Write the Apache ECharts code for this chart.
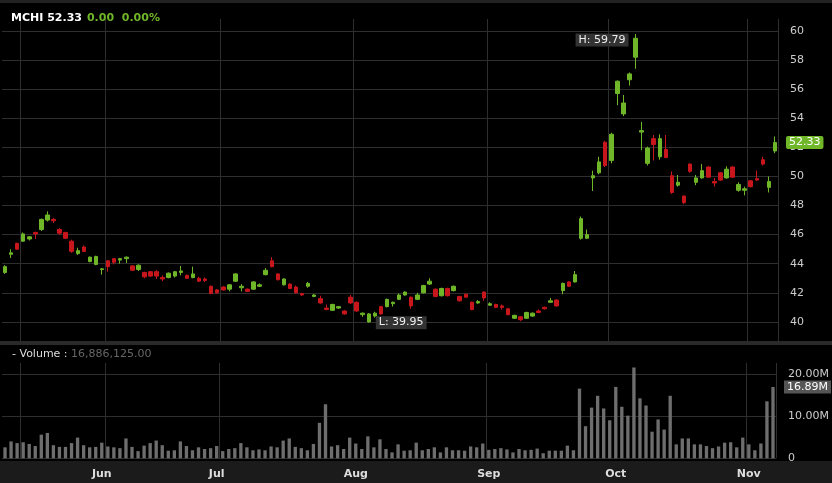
<!DOCTYPE html>
<html><head><meta charset="utf-8">
<script src="https://cdn.jsdelivr.net/npm/echarts@6/dist/echarts.min.js"></script>
<style>html,body{margin:0;padding:0;background:#000;}#c{width:832px;height:483px;}</style>
</head><body><div id="c"></div>
<script>
const opens=[43.4,44.65,45.4,45.55,45.7,46.15,46.35,47.0,47.05,46.35,46.15,45.55,44.7,45.15,44.15,43.95,43.6,44.2,44.35,44.25,44.35,43.85,43.6,43.4,43.45,43.45,43.05,43.05,43.15,43.4,43.2,43.05,43.0,42.95,42.45,42.2,42.4,42.25,42.8,42.35,42.25,42.25,42.45,43.25,44.2,43.3,42.55,42.6,42.4,41.95,42.45,41.75,41.6,40.95,40.8,40.95,40.75,41.7,41.35,40.5,40.0,40.4,41.05,41.05,41.25,41.55,41.85,41.7,41.55,42.0,42.6,42.25,41.8,42.3,42.15,41.75,41.9,41.35,41.3,42.05,41.15,41.2,41.1,40.9,40.25,40.35,40.25,40.4,40.75,41.0,41.35,41.5,42.15,42.75,42.75,45.75,45.75,49.9,50.25,52.35,51.1,55.7,54.3,56.65,58.2,53.05,50.9,52.6,51.35,51.85,50.05,49.4,48.65,50.85,49.6,49.9,50.65,49.65,50.25,49.9,50.65,49.05,49.05,49.7,49.85,51.15,49.25,51.75];
const closes=[43.8,44.75,45.0,46.05,45.85,46.05,47.05,47.35,46.95,46.1,45.75,44.85,44.9,44.85,44.45,44.5,43.65,43.8,44.1,44.35,44.45,43.55,43.9,43.1,43.15,43.15,42.95,43.35,43.45,43.5,43.0,43.3,42.8,42.85,41.95,42.0,42.2,42.55,43.3,42.45,42.1,42.75,42.55,43.55,43.8,42.9,42.95,42.3,42.0,41.85,42.65,41.85,41.3,40.85,41.2,41.05,40.55,41.3,40.75,40.6,40.55,40.6,40.55,41.55,41.35,41.85,42.05,41.1,41.85,42.5,42.8,41.75,42.3,41.8,42.45,41.45,41.7,40.85,41.4,41.65,41.25,41.0,41.0,40.5,40.45,40.15,40.65,40.6,40.65,40.9,41.45,41.1,42.65,42.45,43.25,47.1,46.0,50.05,51.0,50.75,52.9,56.55,55.05,57.05,59.5,53.15,51.95,52.2,52.6,51.3,48.9,49.6,48.2,50.35,49.9,50.4,49.95,49.55,49.75,50.5,49.95,49.45,49.15,49.3,49.75,50.85,49.65,52.33];
const lows=[43.3,44.4,44.95,45.5,45.6,45.7,46.25,46.9,46.8,46.0,45.7,44.75,44.6,44.8,44.1,43.9,43.25,43.45,43.95,44.0,44.05,43.5,43.5,43.0,43.1,42.95,42.8,43.0,43.05,43.2,42.95,43.0,42.75,42.75,41.9,41.95,42.15,42.1,42.75,42.1,42.05,42.2,42.4,43.2,43.75,42.85,42.5,42.25,41.95,41.8,42.35,41.7,41.25,40.8,40.75,40.9,40.5,41.25,40.7,40.35,39.95,40.3,40.5,41.0,41.05,41.5,41.8,40.9,41.5,41.95,42.55,41.7,41.75,41.75,42.1,41.4,41.65,40.8,41.25,41.45,41.1,40.95,40.85,40.45,40.2,40.05,40.2,40.35,40.6,40.85,41.35,41.05,41.9,42.4,42.7,45.65,45.7,49.0,50.15,50.65,50.9,54.9,54.15,56.25,57.4,51.8,50.75,51.1,51.15,51.25,48.8,49.3,48.1,50.25,49.4,49.85,49.9,49.3,49.7,49.85,49.9,48.95,48.7,49.25,49.7,50.75,48.9,51.6];
const highs=[43.9,45.0,45.45,46.15,45.9,46.2,47.1,47.6,47.15,46.45,46.2,45.65,45.1,45.25,44.5,44.55,43.7,44.25,44.4,44.4,44.5,43.9,43.95,43.45,43.5,43.55,43.2,43.4,43.5,43.85,43.25,43.8,43.1,43.05,42.5,42.25,42.45,42.6,43.35,42.6,42.3,42.8,42.65,43.7,44.45,43.35,43.0,42.65,42.5,42.0,42.75,41.9,41.8,41.2,41.25,41.1,40.8,41.85,41.4,40.65,40.6,40.7,41.1,41.6,41.4,41.95,42.1,41.75,42.0,42.55,43.0,42.3,42.35,42.35,42.5,41.8,41.95,41.4,41.5,42.1,41.35,41.25,41.2,40.95,40.5,40.4,40.7,40.65,40.85,41.05,41.65,41.55,42.7,42.8,43.5,47.25,46.35,50.4,51.35,52.45,53.0,56.6,55.6,57.15,59.79,53.75,52.05,52.85,52.9,52.85,50.35,50.1,48.7,50.9,50.1,50.85,50.7,49.9,50.3,50.7,50.7,49.6,49.3,49.75,50.4,51.35,50.0,52.75];
const volumes=[2.6,4,3.6,3.8,3.4,2.9,5.6,6,3.1,2.7,2.7,3.6,4.9,3.1,2.6,2.7,3.7,2.8,2.6,2.4,4.7,2.7,1.7,3,3.6,4.2,3.1,1.8,1.9,4,2.9,1.9,2.6,2.2,2.4,2.9,1.7,2.2,2.4,3.6,2.6,1.9,2.1,1.9,2.8,2.6,4.2,4.7,2.7,2.4,1.9,3.4,8.4,12.8,2.8,3.1,2.2,4.9,3.5,2.2,5.2,2.6,4.5,2.2,1.4,3.3,1.8,1.9,3.7,1.9,2.2,2.6,1.4,2.6,1.9,1.9,1.8,2.8,2.6,3.5,2.0,2.2,2.4,2.1,1.4,2.2,1.9,2.0,2.3,1.2,1.8,1.8,1.8,3.0,1.9,16.5,7.6,12,14.8,11.8,9,16.9,12.2,10.1,21.5,14.2,12.5,6.3,9.2,6.8,14.8,3.3,4.7,4.7,3.3,3.3,2.9,2.4,2.8,3.7,3.8,2.6,4.9,3.3,1.9,3.5,13.5,16.89];
const monthLabels={16:'Jun',35:'Jul',58:'Aug',80:'Sep',101:'Oct',123:'Nov'};
const priceLines=[3,17,36,58,80,100,123];
const volLines=[3,17,36,80,123];

const cats=closes.map((_,i)=>String(i));
const ohlc=closes.map((c,i)=>[opens[i],c,lows[i],highs[i]]);
const last=closes.length-1;
const GREEN='#6fb628', RED='#c8161d', GRID='#2e2e2e', FONT='DejaVu Sans';
const chart=echarts.init(document.getElementById('c'));
const L=2, R=54;
chart.setOption({
  backgroundColor:'#000',animation:false,
  title:{z:200,text:'{w|MCHI 52.33} {g|0.00  0.00%}',left:6,top:4,textStyle:{rich:{
    w:{color:'#fff',fontWeight:'bold',fontSize:11,fontFamily:FONT},
    g:{color:GREEN,fontWeight:'bold',fontSize:11,fontFamily:FONT}}}},
  graphic:[
    {type:'rect',left:0,top:461,z:-10,shape:{width:832,height:22},style:{fill:'#1b1b1b'}},
    {type:'rect',left:0,top:0,z:100,shape:{width:832,height:3},style:{fill:'#222'}},
    {type:'rect',left:0,top:16,z:100,shape:{width:780,height:3},style:{fill:'#000'}},
    {type:'rect',left:0,top:345,z:100,shape:{width:832,height:18},style:{fill:'#000'}},
    {type:'rect',left:0,top:341,z:100,shape:{width:832,height:4},style:{fill:'#2a2a2a'}},
    {type:'text',left:12,top:348,z:101,style:{text:'{w|- Volume :} {g|16,886,125.00}',rich:{
      w:{fill:'#ddd',fontSize:11,fontFamily:FONT},g:{fill:'#666',fontSize:11,fontFamily:FONT}}}}
  ],
  grid:[{left:L,right:R,top:17.9,height:333.1},{left:L,right:R,top:362,height:96.3}],
  xAxis:[
    {type:'category',data:cats,gridIndex:0,axisLine:{show:false},axisTick:{show:false,interval:0},axisLabel:{show:false,interval:0},
     splitLine:{show:true,interval:(i)=>priceLines.includes(i),lineStyle:{color:GRID}}},
    {type:'category',data:cats,gridIndex:1,axisLine:{show:false},axisTick:{show:false,interval:0},
     axisLabel:{interval:(i)=>monthLabels[i]!==undefined,formatter:(v)=>monthLabels[+v]||'',color:'#ddd',fontWeight:'bold',fontSize:11,fontFamily:FONT,margin:10},
     splitLine:{show:true,interval:(i)=>volLines.includes(i),lineStyle:{color:GRID}}}
  ],
  yAxis:[
    {type:'value',gridIndex:0,position:'right',min:38,max:60.9,interval:2,axisLine:{show:false},axisTick:{show:false},
     axisLabel:{color:'#ccc',fontSize:11,fontFamily:FONT,margin:12,showMaxLabel:false,showMinLabel:false},
     splitLine:{lineStyle:{color:GRID}}},
    {type:'value',gridIndex:1,position:'right',min:0,max:22.8,interval:10,axisLine:{show:false},axisTick:{show:false},
     axisLabel:{color:'#ccc',fontSize:11,fontFamily:FONT,margin:12,showMaxLabel:false,formatter:(v)=>v===0?'0':v.toFixed(2)+'M'},
     splitLine:{lineStyle:{color:GRID}}}
  ],
  series:[
    {type:'candlestick',data:ohlc,xAxisIndex:0,yAxisIndex:0,barWidth:'65%',
     itemStyle:{color:GREEN,color0:RED,borderColor:GREEN,borderColor0:RED,borderWidth:1},
     markPoint:{symbol:'circle',symbolSize:0,data:[
       {coord:[104,59.79],label:{show:true,formatter:'H: 59.79',position:'left',offset:[-2,6],color:'#eee',backgroundColor:'#333',padding:[1,3],fontSize:11,fontFamily:FONT}},
       {coord:[60,39.95],label:{show:true,formatter:'L: 39.95',position:'right',offset:[2,0],color:'#eee',backgroundColor:'#333',padding:[1,3],fontSize:11,fontFamily:FONT}},
       {coord:[last,52.33],label:{show:true,formatter:'52.33',position:'right',offset:[6,0],color:'#fff',backgroundColor:GREEN,padding:[1,3],borderRadius:2,fontSize:11,fontFamily:FONT}}
     ]}},
    {type:'bar',data:volumes,xAxisIndex:1,yAxisIndex:1,barWidth:'55%',itemStyle:{color:'#6e6e6e'},
     markPoint:{symbol:'circle',symbolSize:0,data:[
       {coord:[last,16.89],label:{show:true,formatter:'16.89M',position:'right',offset:[6,0],color:'#fff',backgroundColor:'#555',padding:[1,3],fontSize:11,fontFamily:FONT}}]}}
  ]
});
</script></body></html>
